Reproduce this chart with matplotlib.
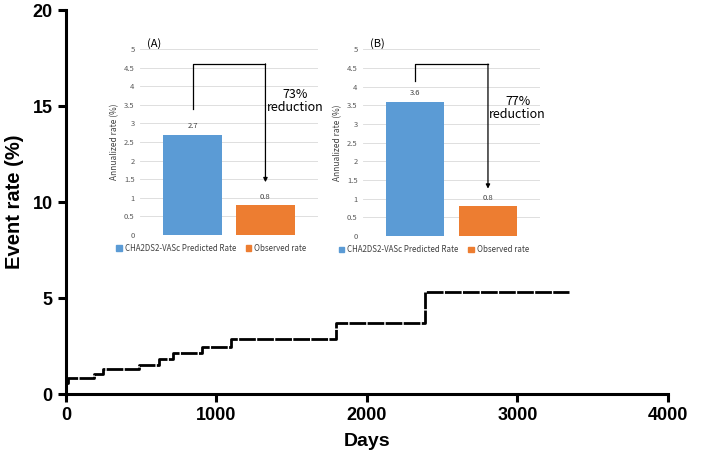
import matplotlib.pyplot as plt

# main Kaplan-Meier style cumulative event curve
days = [0, 15, 183, 248, 487, 617, 713, 905, 1097, 1795, 2384, 3345]
event_rate = [0.6, 0.84, 1.05, 1.3, 1.53, 1.81, 2.14, 2.47, 2.87, 3.69, 5.3, 5.3]

# inset bar charts
bar_labels = ['CHA2DS2-VASc Predicted Rate', 'Observed rate']
rates_a = [2.7, 0.8]
rates_b = [3.6, 0.8]
reduction_a = '73%\nreduction'
reduction_b = '77%\nreduction'

BLUE = '#5B9BD5'
ORANGE = '#ED7D31'
INSET_FONT = ['Noto Sans CJK KR', 'DejaVu Sans']

plt.rcParams['font.family'] = ['Liberation Sans', 'DejaVu Sans']

fig = plt.figure(figsize=(7.08, 4.55), dpi=100)
ax = fig.add_axes([0.0932, 0.134, 0.8503, 0.844])
ax.step(days, event_rate, where='post', color='black', lw=2.0,
        dashes=(6, 0.5))
ax.set_xlim(0, 4000)
ax.set_ylim(0, 20)
ax.set_xticks([0, 1000, 2000, 3000, 4000])
ax.set_yticks([0, 5, 10, 15, 20])
for s in ['top', 'right']:
    ax.spines[s].set_visible(False)
for s in ['left', 'bottom']:
    ax.spines[s].set_linewidth(2.2)
ax.tick_params(width=2.2, length=6, labelsize=13)
for lab in ax.get_xticklabels() + ax.get_yticklabels():
    lab.set_fontweight('bold')
ax.set_xlabel('Days', fontsize=14, fontweight='bold', labelpad=6)
ax.set_ylabel('Event rate (%)', fontsize=14.5, fontweight='bold', labelpad=6)


def inset(rect, rates, tag, text, left_bottom, arrow_bottom, text_y):
    ia = fig.add_axes(rect)
    ia.set_facecolor('white')
    x = [0, 1]
    ia.bar(x, rates, width=0.8, color=[BLUE, ORANGE], zorder=2)
    for xi, r in zip(x, rates):
        ia.text(xi, r + 0.12, f'{r}', ha='center', va='bottom',
                fontsize=5.5, color='#404040', family=INSET_FONT)
    ia.set_xlim(-0.72, 1.72)
    ia.set_ylim(0, 5)
    ia.set_yticks([0, 0.5, 1, 1.5, 2, 2.5, 3, 3.5, 4, 4.5, 5])
    ia.set_yticklabels(['0', '0.5', '1', '1.5', '2', '2.5', '3', '3.5', '4', '4.5', '5'],
                       family=INSET_FONT)
    ia.set_xticks([])
    ia.tick_params(axis='y', length=0, labelsize=5.5, labelcolor='#595959', pad=4)
    ia.grid(axis='y', color='#d9d9d9', lw=0.6, zorder=0)
    for s in ia.spines.values():
        s.set_visible(False)
    ia.set_ylabel('Annualized rate (%)', fontsize=6, color='#404040', labelpad=3,
                  family=INSET_FONT)
    ia.text(0.04, 1.0, tag, transform=ia.transAxes, fontsize=8, va='bottom',
            family=INSET_FONT)
    # bracket with arrow
    ia.plot([0, 0, 1], [left_bottom, 4.6, 4.6], color='black', lw=0.9, clip_on=False)
    ia.annotate('', xy=(1, arrow_bottom), xytext=(1, 4.6),
                arrowprops=dict(arrowstyle='-|>', color='black', lw=0.9,
                                mutation_scale=6, shrinkA=0, shrinkB=0))
    ia.text(1.41, text_y, text, ha='center', va='center', fontsize=9,
            linespacing=1.0, clip_on=False, family=INSET_FONT)
    handles = [plt.Rectangle((0, 0), 1, 1, color=c) for c in (BLUE, ORANGE)]
    ia.legend(handles, bar_labels, loc='upper center', bbox_to_anchor=(0.4, -0.01),
              ncol=2, frameon=False, handlelength=0.7, handleheight=0.7,
              handletextpad=0.4, columnspacing=1.2, labelcolor='#404040',
              prop={'family': INSET_FONT, 'size': 5.7})
    return ia


inset([0.198, 0.4835, 0.251, 0.4088], rates_a, '(A)', reduction_a, 3.4, 1.42, 3.6)
inset([0.513, 0.481, 0.250, 0.411], rates_b, '(B)', reduction_b, 4.14, 1.27, 3.42)

fig.savefig('out.png', dpi=100)
